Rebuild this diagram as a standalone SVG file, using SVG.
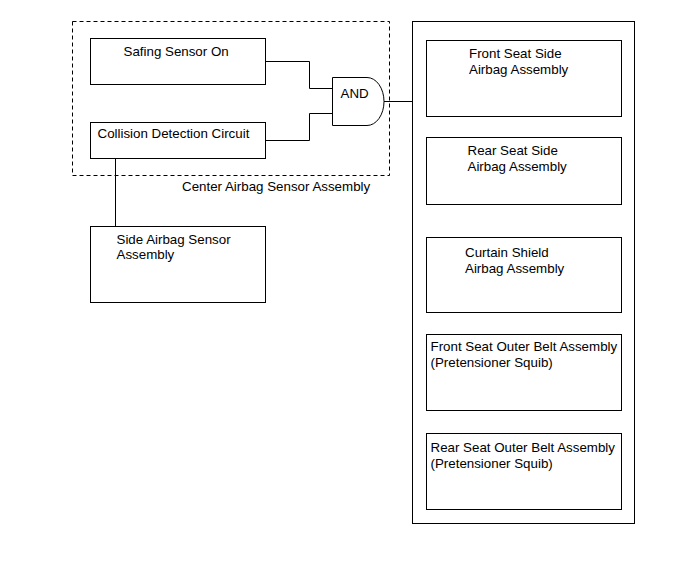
<svg xmlns="http://www.w3.org/2000/svg" width="690" height="564" viewBox="0 0 690 564">
<style>
  .box { fill: #ffffff; stroke: #000000; stroke-width: 1; }
  .dash { fill: none; stroke: #000000; stroke-width: 1; stroke-dasharray: 4,3; }
  .wire { fill: none; stroke: #000000; stroke-width: 1; }
  text { font-family: "Liberation Sans", Arial, sans-serif; font-size: 13.33px; fill: #000000; }
</style>
<rect width="690" height="564" fill="#ffffff"/>
<g id="center-airbag-sensor-assembly">
  <rect class="dash" x="72.5" y="21.5" width="317" height="154"/>
  <text x="182" y="191">Center Airbag Sensor Assembly</text>
</g>
<g id="connectors">
  <polyline class="wire" points="266,61.5 309.5,61.5 309.5,88.5 333,88.5"/>
  <polyline class="wire" points="266,140.5 309.5,140.5 309.5,113.5 333,113.5"/>
  <line class="wire" x1="384" y1="101.5" x2="412.5" y2="101.5"/>
  <line class="wire" x1="115.5" y1="159" x2="115.5" y2="226"/>
</g>
<g id="safing-sensor-on">
  <rect class="box" x="90.5" y="38.5" width="175" height="46"/>
  <text x="123.5" y="56">Safing Sensor On</text>
</g>
<g id="collision-detection-circuit">
  <rect class="box" x="90.5" y="122.5" width="175" height="36"/>
  <text x="97.5" y="138">Collision Detection Circuit</text>
</g>
<g id="and-gate">
  <path class="box" d="M332.5,77.5 H367 A17,24 0 0 1 367,125.5 H332.5 Z"/>
  <text x="340.5" y="98">AND</text>
</g>
<g id="side-airbag-sensor-assembly">
  <rect class="box" x="90.5" y="226.5" width="175" height="76"/>
  <text x="116.5" y="244">Side Airbag Sensor</text>
  <text x="116.5" y="259">Assembly</text>
</g>
<g id="output-group">
  <rect class="box" x="412.5" y="21.5" width="222" height="502"/>
</g>
<g id="front-seat-side-airbag-assembly">
  <rect class="box" x="426.5" y="40.5" width="195" height="76"/>
  <text x="469" y="57.5">Front Seat Side</text>
  <text x="469" y="73.5">Airbag Assembly</text>
</g>
<g id="rear-seat-side-airbag-assembly">
  <rect class="box" x="426.5" y="137.5" width="195" height="67"/>
  <text x="467.5" y="155">Rear Seat Side</text>
  <text x="467.5" y="171">Airbag Assembly</text>
</g>
<g id="curtain-shield-airbag-assembly">
  <rect class="box" x="426.5" y="237.5" width="195" height="75"/>
  <text x="465" y="257">Curtain Shield</text>
  <text x="465" y="273">Airbag Assembly</text>
</g>
<g id="front-seat-outer-belt-assembly">
  <rect class="box" x="426.5" y="334.5" width="195" height="76"/>
  <text x="430.5" y="351">Front Seat Outer Belt Assembly</text>
  <text x="430.5" y="366.5">(Pretensioner Squib)</text>
</g>
<g id="rear-seat-outer-belt-assembly">
  <rect class="box" x="426.5" y="433.5" width="195" height="76"/>
  <text x="430.5" y="452">Rear Seat Outer Belt Assembly</text>
  <text x="430.5" y="467.5">(Pretensioner Squib)</text>
</g>
</svg>
